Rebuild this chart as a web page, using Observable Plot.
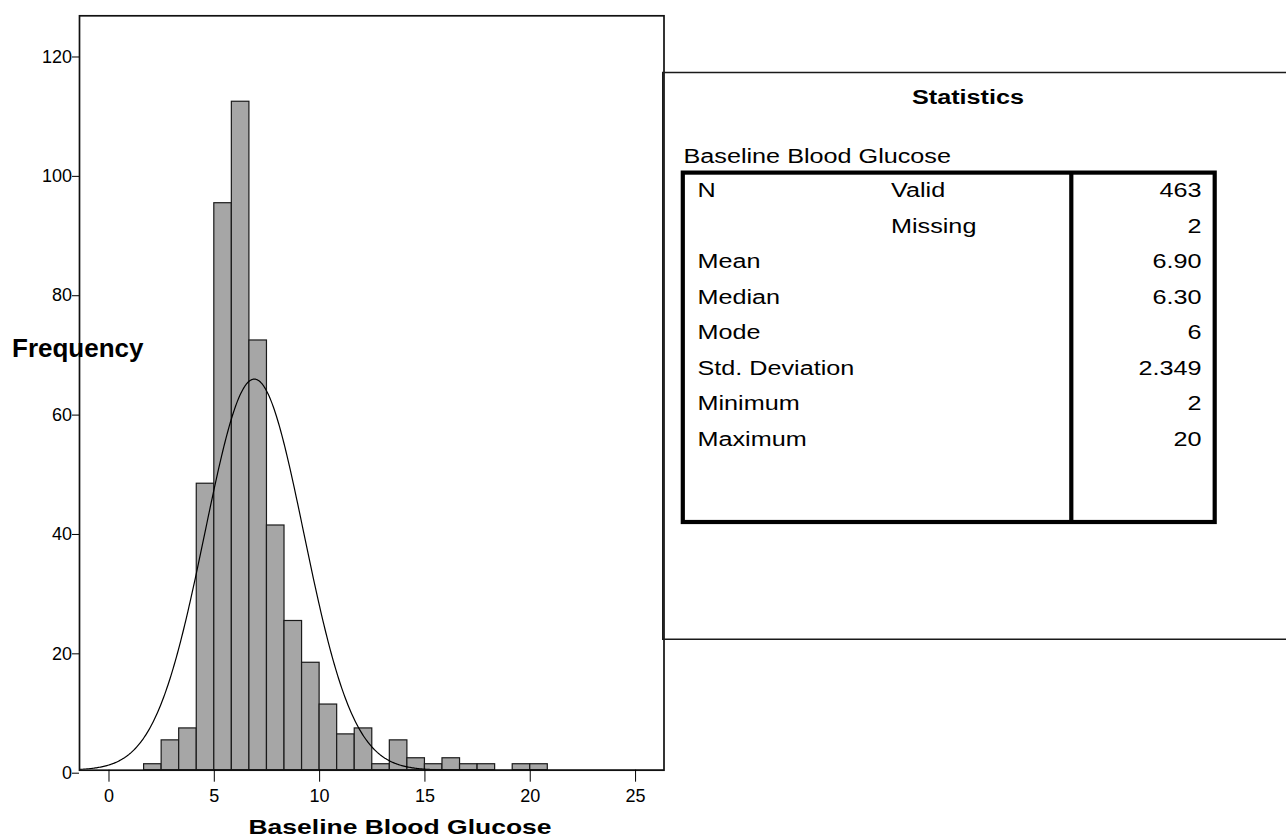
<!DOCTYPE html>
<html><head><meta charset="utf-8">
<script src="https://cdn.jsdelivr.net/npm/d3@7"></script>
<script src="https://cdn.jsdelivr.net/npm/@observablehq/plot@0.6"></script>
<style>
html,body{margin:0;padding:0;background:#fff;}
#wrap{position:relative;width:1286px;height:838px;overflow:hidden;background:#fff;}
#chart{position:absolute;left:0;top:0;}
#overlay{position:absolute;left:0;top:0;pointer-events:none;}
</style></head><body>
<div id="wrap"><div id="chart"></div><svg id="overlay" width="1286" height="838"></svg></div>
<script>
// ---- data ----
const binStart = [1.667, 2.5, 3.333, 4.167, 5, 5.833, 6.667, 7.5, 8.333, 9.167, 10, 10.833, 11.667, 12.5, 13.333, 14.167, 15, 15.833, 16.667, 17.5, 18.333, 19.167, 20];
const binEnd   = [2.5, 3.333, 4.167, 5, 5.833, 6.667, 7.5, 8.333, 9.167, 10, 10.833, 11.667, 12.5, 13.333, 14.167, 15, 15.833, 16.667, 17.5, 18.333, 19.167, 20, 20.833];
const counts   = [1, 5, 7, 48, 95, 112, 72, 41, 25, 18, 11, 6, 7, 1, 5, 2, 1, 2, 1, 1, 0, 1, 1];
const xTicks = [0, 5, 10, 15, 20, 25];
const yTicks = [0, 20, 40, 60, 80, 100, 120];
const statRowLabels = ["N", "", "Mean", "Median", "Mode", "Std. Deviation", "Minimum", "Maximum"];
const statSubLabels = ["Valid", "Missing", "", "", "", "", "", ""];
const statValues    = ["463", "2", "6.90", "6.30", "6", "2.349", "2", "20"];
const meanVal = 6.90, sdVal = 2.349, nValid = 463, binWidth = 5 / 6;
const xDomain = [-1.4, 26.35];
const yDomain = [0, 126.4];

// ---- derived ----
const bins = binStart.map((s, i) => ({x1: s, x2: binEnd[i], count: counts[i]}));
const curve = d3.range(xDomain[0], xDomain[1] + 0.001, 0.05).map(x => ({
  x, y: nValid * binWidth * Math.exp(-0.5 * ((x - meanVal) / sdVal) ** 2) / (sdVal * Math.sqrt(2 * Math.PI))
}));

const plot = Plot.plot({
  width: 1286, height: 838,
  marginLeft: 79, marginRight: 622.5, marginTop: 15.3, marginBottom: 68.3,
  style: {fontFamily: "Arial, 'Liberation Sans', sans-serif", fontSize: "18px", color: "#000", background: "transparent"},
  x: {domain: xDomain},
  y: {domain: yDomain},
  marks: [
    Plot.rectY(bins, {x1: "x1", x2: "x2", y: "count", fill: "#a6a6a6", stroke: "#1a1a1a", strokeWidth: 1.2, inset: 0}),
    Plot.line(curve, {x: "x", y: "y", stroke: "#000", strokeWidth: 1.2, clip: true}),
    Plot.frame({stroke: "#111", strokeWidth: 1.7}),
    Plot.axisX({ticks: xTicks, tickSize: 12, tickPadding: 7, label: null, fontSize: 18, tickFormat: d => d}),
    Plot.axisY({ticks: yTicks, tickSize: 7, tickPadding: 0.5, label: null, fontSize: 18, dy: 3, tickFormat: d => d})
  ]
});
document.getElementById("chart").appendChild(plot);

// ---- overlay: axis titles and statistics panel ----
const svg = d3.select("#overlay");
const font = "Arial, 'Liberation Sans', sans-serif";
svg.append("text").attr("x", 12).attr("y", 357).attr("font-family", font).attr("font-weight", "bold")
  .attr("font-size", 26).text("Frequency");
svg.append("text").attr("x", 248.5).attr("y", 833.5).attr("font-family", font)
  .attr("font-weight", "bold").attr("font-size", 21)
  .attr("textLength", 303).attr("lengthAdjust", "spacingAndGlyphs").text("Baseline Blood Glucose");

// outer panel
svg.append("path").attr("d", "M1290,72.5 H662.8 V639.3 H1290").attr("fill", "none").attr("stroke", "#1a1a1a").attr("stroke-width", 1.6);
// inner table
svg.append("rect").attr("x", 682.8).attr("y", 172.6).attr("width", 531.9).attr("height", 349.4)
  .attr("fill", "none").attr("stroke", "#000").attr("stroke-width", 4.2);
svg.append("line").attr("x1", 1071.3).attr("x2", 1071.3).attr("y1", 172.6).attr("y2", 522)
  .attr("stroke", "#000").attr("stroke-width", 4.2);

const sx = 1.2, fs = 21;
function stretchedText(x, y, str, opts = {}) {
  const g = svg.append("g").attr("transform", `translate(${x},${y}) scale(${sx},1)`);
  g.append("text").attr("font-family", font).attr("font-size", fs)
    .attr("font-weight", opts.bold ? "bold" : "normal")
    .attr("text-anchor", opts.anchor || "start").text(str);
}
stretchedText(968, 104, "Statistics", {bold: true, anchor: "middle"});
stretchedText(683.5, 163.3, "Baseline Blood Glucose");
const rowY0 = 197.3, rowStep = 35.5;
statRowLabels.forEach((t, i) => { if (t) stretchedText(697.5, rowY0 + i * rowStep, t); });
statSubLabels.forEach((t, i) => { if (t) stretchedText(891, rowY0 + i * rowStep, t); });
statValues.forEach((t, i) => stretchedText(1201.5, rowY0 + i * rowStep, t, {anchor: "end"}));
</script>
</body></html>
